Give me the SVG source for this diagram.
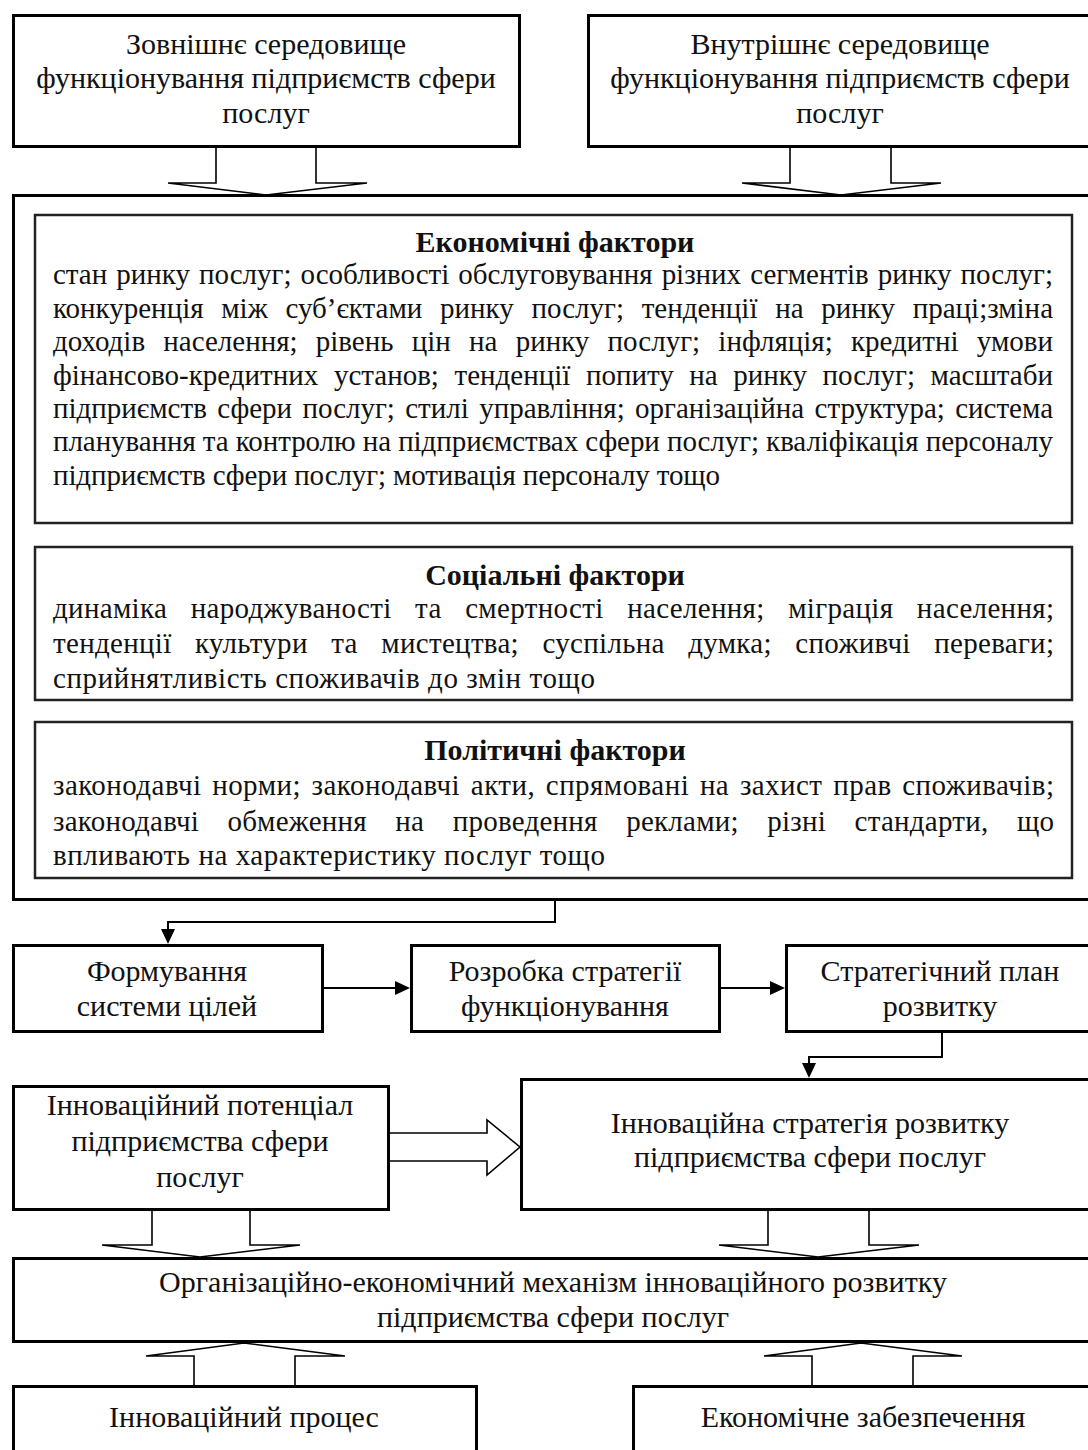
<svg xmlns="http://www.w3.org/2000/svg" width="1088" height="1450" viewBox="0 0 1088 1450">
<style>
text{font-family:"Liberation Serif","Times New Roman",serif;fill:#111;}
.t{font-size:30px;text-anchor:middle;}
.b{font-size:29px;}
.h{font-size:30px;font-weight:bold;text-anchor:middle;}
.box{fill:#fff;stroke:#000;stroke-width:3;}
.in{fill:#fff;stroke:#222;stroke-width:2.5;}
.ln{fill:none;stroke:#000;stroke-width:2;}
.blk{fill:#fff;stroke:#000;stroke-width:1.6;stroke-linejoin:miter;}
.ah{fill:#000;}
</style>
<rect width="1088" height="1450" fill="#fff"/>

<g id="connectors">
<polygon class="blk" points="216,147 216,183 168,183 266,195 367,183 316,183 316,147"/>
<polygon class="blk" points="790,147 790,183 742,183 841,195 941,183 891,183 891,147"/>
<path d="M555,900 V922 H168 V930" class="ln"/>
<path class="ah" d="M161,929 L175,929 L168,944 z"/>
<path d="M323,988 H396" class="ln"/>
<path class="ah" d="M395,981 L410,988 L395,995 z"/>
<path d="M720,988 H771" class="ln"/>
<path class="ah" d="M770,981 L785,988 L770,995 z"/>
<path d="M942,1032 V1057 H809 V1064" class="ln"/>
<path class="ah" d="M802,1063 L816,1063 L809,1078 z"/>
<polygon class="blk" points="389,1133 487,1133 487,1120 520,1147 487,1175 487,1161 389,1161"/>
<polygon class="blk" points="152,1209 152,1245 102,1245 200,1257 300,1245 250,1245 250,1209"/>
<polygon class="blk" points="768,1209 768,1245 719,1245 818,1257 919,1245 869,1245 869,1209"/>
<polygon class="blk" points="194,1386 194,1356 146,1356 244,1343 345,1356 295,1356 295,1386"/>
<polygon class="blk" points="812,1386 812,1356 764,1356 861,1343 962,1356 913,1356 913,1386"/>
</g>

<g id="n-external">
<rect class="box" x="13.5" y="15.5" width="506" height="131"/>
<text class="t" x="266" y="54">Зовнішнє середовище</text>
<text class="t" x="266" y="88">функціонування підприємств сфери</text>
<text class="t" x="266" y="123">послуг</text>
</g>
<g id="n-internal">
<rect class="box" x="588.5" y="15.5" width="510" height="131"/>
<text class="t" x="840" y="54">Внутрішнє середовище</text>
<text class="t" x="840" y="88">функціонування підприємств сфери</text>
<text class="t" x="840" y="123">послуг</text>
</g>

<g id="n-factors">
<rect class="box" x="13.5" y="195.5" width="1085" height="704"/>
</g>
<g id="n-economic">
<rect class="in" x="35" y="215" width="1037" height="308"/>
<text class="h" x="555" y="252">Економічні фактори</text>
<text class="b" x="53" y="284" word-spacing="1.9" textLength="1000" lengthAdjust="spacing">стан ринку послуг; особливості обслуговування різних сегментів ринку послуг;</text>
<text class="b" x="53" y="318" word-spacing="10.5" textLength="1000" lengthAdjust="spacing">конкуренція між суб’єктами ринку послуг; тенденції на ринку праці;зміна</text>
<text class="b" x="53" y="351" word-spacing="11" textLength="1000" lengthAdjust="spacing">доходів населення; рівень цін на ринку послуг; інфляція; кредитні умови</text>
<text class="b" x="53" y="385" word-spacing="8.3" textLength="1000" lengthAdjust="spacing">фінансово-кредитних установ; тенденції попиту на ринку послуг; масштаби</text>
<text class="b" x="53" y="418" word-spacing="3.1" textLength="1000" lengthAdjust="spacing">підприємств сфери послуг; стилі управління; організаційна структура; система</text>
<text class="b" x="53" y="451" textLength="1000" lengthAdjust="spacing">планування та контролю на підприємствах сфери послуг; кваліфікація персоналу</text>
<text class="b" x="53" y="485" textLength="667" lengthAdjust="spacing">підприємств сфери послуг; мотивація персоналу тощо</text>
</g>
<g id="n-social">
<rect class="in" x="35" y="547" width="1037" height="153"/>
<text class="h" x="555" y="585">Соціальні фактори</text>
<text class="b" x="53" y="618" word-spacing="16" textLength="1001" lengthAdjust="spacing">динаміка народжуваності та смертності населення; міграція населення;</text>
<text class="b" x="53" y="653" word-spacing="16" textLength="1001" lengthAdjust="spacing">тенденції культури та мистецтва; суспільна думка; споживчі переваги;</text>
<text class="b" x="53" y="688" textLength="542" lengthAdjust="spacing">сприйнятливість споживачів до змін тощо</text>
</g>
<g id="n-political">
<rect class="in" x="35" y="722" width="1037" height="156"/>
<text class="h" x="555" y="760">Політичні фактори</text>
<text class="b" x="53" y="795" word-spacing="3" textLength="1001" lengthAdjust="spacing">законодавчі норми; законодавчі акти, спрямовані на захист прав споживачів;</text>
<text class="b" x="53" y="831" word-spacing="21" textLength="1001" lengthAdjust="spacing">законодавчі обмеження на проведення реклами; різні стандарти, що</text>
<text class="b" x="53" y="865" textLength="552" lengthAdjust="spacing">впливають на характеристику послуг тощо</text>
</g>

<g id="n-goals">
<rect class="box" x="13.5" y="945.5" width="309" height="86"/>
<text class="t" x="167" y="981">Формування</text>
<text class="t" x="167" y="1016">системи цілей</text>
</g>
<g id="n-strategy-dev">
<rect class="box" x="411.5" y="945.5" width="308" height="86"/>
<text class="t" x="565" y="981">Розробка стратегії</text>
<text class="t" x="565" y="1016">функціонування</text>
</g>
<g id="n-plan">
<rect class="box" x="786.5" y="945.5" width="310" height="86"/>
<text class="t" x="940" y="981">Стратегічний план</text>
<text class="t" x="940" y="1016">розвитку</text>
</g>

<g id="n-potential">
<rect class="box" x="13.5" y="1086.5" width="375" height="123"/>
<text class="t" x="200" y="1115">Інноваційний потенціал</text>
<text class="t" x="200" y="1151">підприємства сфери</text>
<text class="t" x="200" y="1187">послуг</text>
</g>
<g id="n-innov-strategy">
<rect class="box" x="521.5" y="1079.5" width="580" height="130"/>
<text class="t" x="810" y="1133">Інноваційна стратегія розвитку</text>
<text class="t" x="810" y="1167">підприємства сфери послуг</text>
</g>

<g id="n-mechanism">
<rect class="box" x="13.5" y="1258.5" width="1085" height="83"/>
<text class="t" x="553" y="1292">Організаційно-економічний механізм інноваційного розвитку</text>
<text class="t" x="553" y="1327">підприємства сфери послуг</text>
</g>

<g id="n-process">
<rect class="box" x="13.5" y="1386.5" width="463" height="80"/>
<text class="t" x="244" y="1427">Інноваційний процес</text>
</g>
<g id="n-economic-support">
<rect class="box" x="633.5" y="1386.5" width="465" height="80"/>
<text class="t" x="863" y="1427">Економічне забезпечення</text>
</g>
</svg>
